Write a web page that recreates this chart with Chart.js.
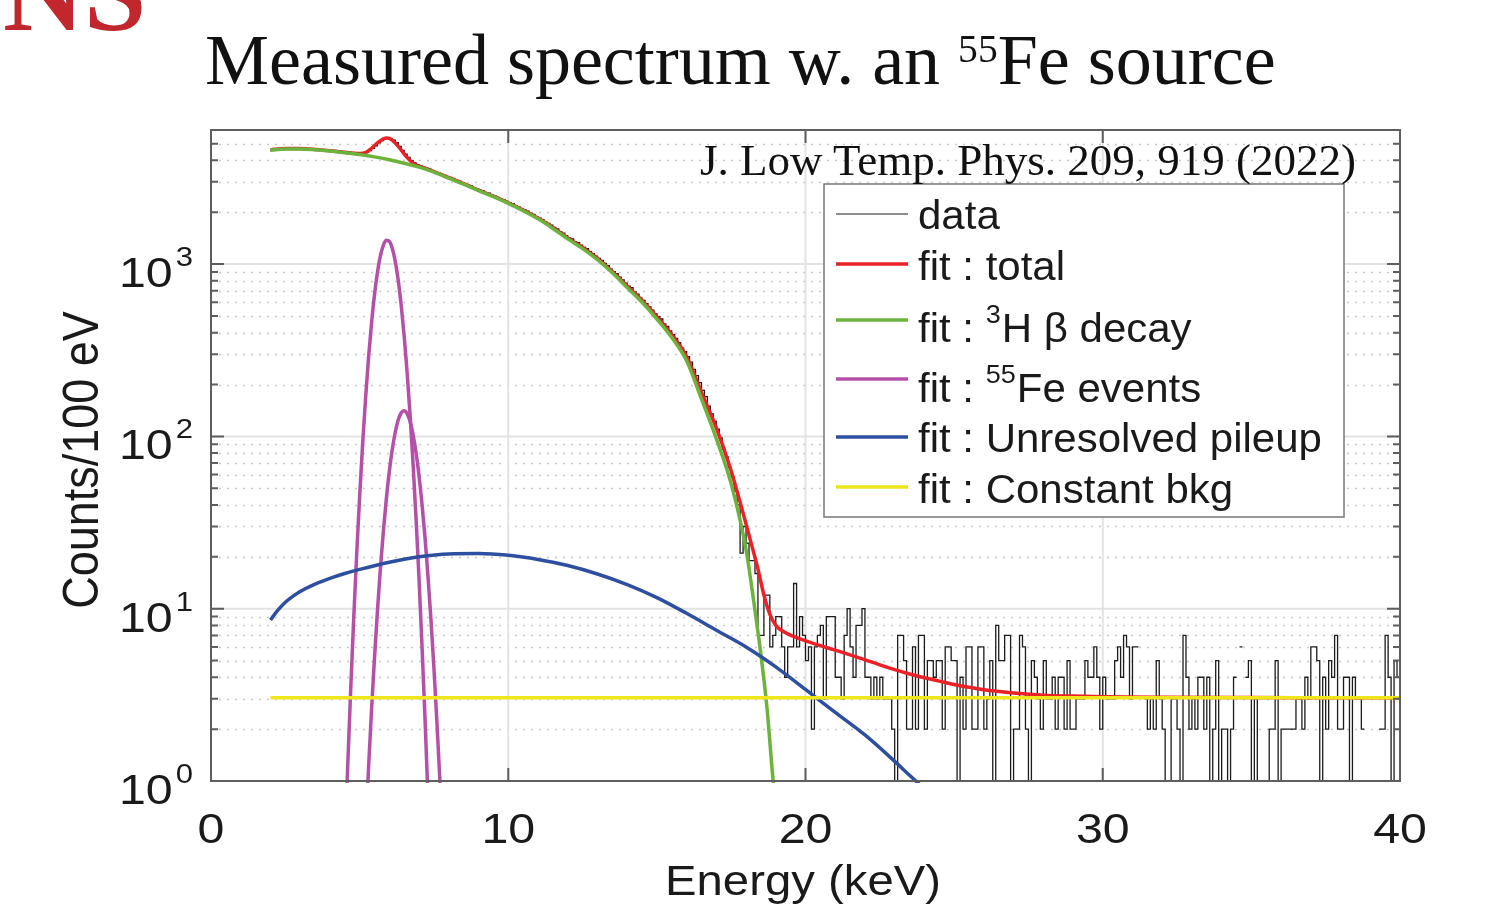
<!DOCTYPE html>
<html><head><meta charset="utf-8">
<script src="https://cdn.jsdelivr.net/npm/chart.js@4.4.0/dist/chart.umd.min.js"></script>
<style>
html,body{margin:0;padding:0;background:#fff;width:1487px;height:910px;overflow:hidden;}
#wrap{position:relative;width:1487px;height:910px;}
canvas{position:absolute;left:0;top:0;}
.ov{position:absolute;white-space:nowrap;line-height:1;margin:0;}
#logo{left:3px;top:-72px;font:bold 112px "Liberation Serif",serif;color:#c1272d;}
#title{left:205px;top:19px;font:72px "Liberation Serif",serif;color:#111;}
#title sup{font-size:0.55em;vertical-align:0.55em;line-height:0;}
#cite{left:700px;top:134px;font:45px "Liberation Serif",serif;color:#111;}
</style></head><body><div id="wrap">
<canvas id="c" width="1487" height="910"></canvas>
<div class="ov" id="logo">NS</div>
<div class="ov" id="title">Measured spectrum w. an <sup>55</sup>Fe source</div>
<div class="ov" id="cite">J. Low Temp. Phys. 209, 919 (2022)</div>
</div>
<script>
// ---------- DATA ----------
const binStartKeV = 2.0;
const binWidthKeV = 0.1;
// counts per 100 eV bin, 2.0 .. 40.0 keV (380 bins); 0 = empty bin
const counts = [
 4570,4610,4650,4620,4680,4660,4700,4650,4680,4710,
 4660,4690,4640,4670,4610,4650,4600,4620,4570,4600,
 4540,4570,4500,4520,4480,4440,4460,4410,4430,4380,
 4390,4400,4450,4560,4690,4850,5060,5210,5340,5410,
 5350,5240,5060,4820,4570,4350,4160,3990,3860,3780,
 3710,3650,3590,3550,3480,3430,3380,3330,3270,3220,
 3180,3140,3070,3030,2970,2930,2870,2840,2780,2740,
 2690,2660,2600,2580,2510,2480,2440,2390,2360,2310,
 2270,2240,2180,2150,2100,2060,2030,1970,1940,1880,
 1850,1810,1760,1720,1680,1630,1600,1540,1510,1460,
 1420,1400,1350,1330,1290,1250,1230,1180,1150,1110,
 1080,1050,1010,980,935,905,880,840,810,775,
 745,730,690,670,635,615,590,565,540,515,
 495,480,450,435,410,390,370,350,325,310,
 290,270,245,225,205,185,170,150,135,122,
 110,98,84,76,66,58,48,40,21,30,
 24,19,19,16,7,7,12,12,6,7,
 9,9,6,4,6,6,14,6,9,7,
 5,6,2,6,7,8,3,9,9,9,
 4,4,3,7,10,6,4,8,8,10,
 4,4,3,4,3,4,3,3,3,2,
 1,7,7,5,2,2,6,2,7,7,
 2,5,5,4,5,5,2,6,6,5,
 5,1,4,2,6,6,2,2,6,6,
 2,3,5,1,8,5,5,7,7,1,
 2,2,7,6,2,1,5,4,3,2,
 5,3,3,4,2,4,4,2,5,2,
 2,3,3,3,5,4,4,6,4,2,
 4,3,3,3,5,6,4,7,6,3,
 6,6,0,0,3,2,3,2,5,3,
 2,1,1,3,3,2,1,7,4,2,
 3,2,4,4,2,4,1,2,5,1,
 2,2,1,2,4,0,6,0,4,5,
 1,3,1,1,1,1,2,2,5,1,
 2,2,2,2,2,3,3,2,4,3,
 6,6,5,1,4,2,5,4,7,2,
 2,4,4,1,4,3,3,2,0,0,
 0,0,0,2,2,7,4,1,5,4
];

const totalE = [2.0,2.5,3.0,3.5,4.0,4.5,5.0,5.2,5.4,5.6,5.8,5.9,6.0,6.2,6.4,6.6,6.8,7.0,7.2,7.5,8.0,8.5,9.0,9.5,10.0,10.5,11.0,11.5,12.0,12.5,13.0,13.5,14.0,14.5,15.0,15.5,16.0,16.5,17.0,17.5,18.0,18.2,18.4,18.6,18.8,19.0,19.3,19.6,20.0,20.5,21.0,21.5,22.0,22.5,23.0,23.5,24.0,24.5,25.0,25.5,26.0,26.5,27.0,27.5,28.0,29.0,30.0,32.0,35.0,40.0];
const totalFit = [4600,4680,4680,4630,4550,4450,4380,4430,4700,5050,5330,5400,5360,5050,4580,4150,3850,3700,3600,3440,3180,2930,2690,2480,2270,2060,1850,1630,1420,1250,1080,905,745,615,495,390,290,180,112,63,31,23,17,12,9.3,8.0,7.3,6.9,6.5,6.1,5.75,5.4,5.05,4.72,4.43,4.18,3.97,3.8,3.63,3.5,3.39,3.31,3.24,3.19,3.15,3.11,3.08,3.06,3.05,3.04];

const tritiumE = [2.0,2.5,3.0,3.5,4.0,4.5,5.0,5.5,6.0,6.5,7.0,7.5,8.0,8.5,9.0,9.5,10.0,10.5,11.0,11.5,12.0,12.5,13.0,13.5,14.0,14.5,15.0,15.5,16.0,16.5,17.0,17.5,18.0,18.3,18.5,18.7,18.9,19.0];
const tritiumFit = [4580,4660,4660,4610,4530,4430,4320,4190,4030,3850,3650,3420,3150,2910,2670,2460,2250,2040,1830,1610,1400,1230,1060,890,730,600,480,375,275,165,97,53,22,9.8,5.4,2.7,1.05,0.7];

const feKaE = [4.5,4.6,4.7,4.8,4.9,5.0,5.1,5.2,5.3,5.4,5.5,5.6,5.7,5.8,5.9,6.0,6.1,6.2,6.3,6.4,6.5,6.6,6.7,6.8,6.9,7.0,7.1,7.2,7.3];
const feKaFit = [0.4,1.23,3.4,8.7,20.5,44.6,89.7,166,286,453,662,896,1119,1290,1375,1353,1231,1034,802,574,380,233,131,68.4,33,14.7,6.0,2.3,0.8];
const feKbE = [5.2,5.3,5.4,5.5,5.6,5.7,5.8,5.9,6.0,6.1,6.2,6.3,6.4,6.5,6.6,6.7,6.8,6.9,7.0,7.1,7.2,7.3,7.4,7.5,7.6,7.7,7.8];
const feKbFit = [0.5,1.19,2.57,5.17,9.75,17.2,28.3,43.6,62.7,84.4,106,125,137,141,135,121.5,102,80,58.7,40.2,25.8,15.4,8.6,4.5,2.2,1.01,0.43];

const pileupE = [2.0,2.25,2.5,2.75,3.0,3.5,4.0,4.5,5.0,6.0,7.0,8.0,9.0,10.0,11.0,12.0,13.0,14.0,15.0,16.0,17.0,18.0,19.0,20.0,21.0,22.0,23.0,23.5,24.0];
const pileupFit = [8.6,9.8,10.9,11.8,12.6,13.9,15.0,16.0,16.9,18.6,20.0,20.8,20.9,20.4,19.3,17.8,15.9,13.8,11.6,9.4,7.5,6.0,4.6,3.4,2.5,1.85,1.3,1.08,0.9];

const bkgE = [2.0,40.0];
const bkgFit = [3.04,3.04];

const xTicks = [0,10,20,30,40];
const yDecades = [0,1,2,3];
const legendLabels = [
  [['data',0]],
  [['fit : total',0]],
  [['fit : ',0],['3',1],['H \u03b2 decay',0]],
  [['fit : ',0],['55',1],['Fe events',0]],
  [['fit : Unresolved pileup',0]],
  [['fit : Constant bkg',0]]
];

// ---------- COLORS ----------
const C_DATA='#1c1c1c', C_RED='#ea2227', C_GREEN='#6cb33e', C_MAG='#b64fa8', C_BLUE='#2e4fa0', C_YEL='#efe51b';

// ---------- BUILD ----------
const dataPts = [];
counts.forEach((c,i)=>{
  const e0 = +(binStartKeV + i*binWidthKeV).toFixed(2);
  const e1 = +(e0 + binWidthKeV).toFixed(2);
  const v = c>0 ? c : null;
  dataPts.push({x:e0,y:v},{x:e1,y:v});
});
const pairs = (xs,ys)=>xs.map((x,i)=>({x:x,y:ys[i]}));

const SANS = '"Liberation Sans", Arial, Helvetica, sans-serif';
function txt(ctx,s,x,y,size,align,sx){
  ctx.save();
  ctx.font = size+'px '+SANS;
  ctx.textAlign='left'; ctx.textBaseline='alphabetic';
  const w = ctx.measureText(s).width*sx;
  const x0 = align==='center'? x-w/2 : align==='right'? x-w : x;
  ctx.translate(x0,y); ctx.scale(sx,1); ctx.fillText(s,0,0);
  ctx.restore();
  return w;
}

const decor = {
  id:'decor',
  beforeDatasetsDraw(chart){
    const {ctx, chartArea:a, scales:{x,y}} = chart;
    ctx.save();
    ctx.strokeStyle='#c9c9c9'; ctx.lineWidth=1.5; ctx.setLineDash([2,6]);
    yDecades.forEach(d=>{
      for(let m=2;m<=9;m++){
        const v=m*Math.pow(10,d); if(v>=y.max) continue;
        const py=Math.round(y.getPixelForValue(v))+0.5;
        ctx.beginPath(); ctx.moveTo(a.left,py); ctx.lineTo(a.right,py); ctx.stroke();
      }
    });
    ctx.setLineDash([]);
    ctx.strokeStyle='#e3e3e3'; ctx.lineWidth=2;
    yDecades.forEach(d=>{
      const v=Math.pow(10,d); if(v<=y.min) return;
      const py=y.getPixelForValue(v);
      ctx.beginPath(); ctx.moveTo(a.left,py); ctx.lineTo(a.right,py); ctx.stroke();
    });
    xTicks.forEach(t=>{
      if(t<=x.min||t>=x.max) return;
      const px=x.getPixelForValue(t);
      ctx.beginPath(); ctx.moveTo(px,a.top); ctx.lineTo(px,a.bottom); ctx.stroke();
    });
    ctx.restore();
  },
  afterDatasetsDraw(chart){
    const {ctx, chartArea:a, scales:{x,y}} = chart;
    ctx.save();
    ctx.strokeStyle='#5e5e5e'; ctx.lineWidth=2;
    ctx.strokeRect(a.left,a.top,a.right-a.left,a.bottom-a.top);
    yDecades.forEach(d=>{
      for(let m=1;m<=9;m++){
        const v=m*Math.pow(10,d); if(v>=y.max) continue;
        const py=y.getPixelForValue(v);
        const L = m===1?13:7;
        ctx.beginPath(); ctx.moveTo(a.left,py); ctx.lineTo(a.left+L,py);
        ctx.moveTo(a.right,py); ctx.lineTo(a.right-L,py); ctx.stroke();
      }
    });
    xTicks.forEach(t=>{
      const px=x.getPixelForValue(t);
      ctx.beginPath(); ctx.moveTo(px,a.bottom); ctx.lineTo(px,a.bottom-13);
      ctx.moveTo(px,a.top); ctx.lineTo(px,a.top+13); ctx.stroke();
    });
    ctx.restore();
  },
  afterDraw(chart){
    const {ctx, chartArea:a, scales:{x,y}} = chart;
    ctx.save();
    ctx.fillStyle='#1a1a1a';
    xTicks.forEach(t=>{ txt(ctx,String(t),x.getPixelForValue(t),843,42,'center',1.15); });
    yDecades.forEach(d=>{
      const py=y.getPixelForValue(Math.pow(10,d));
      const ws = txt(ctx,String(d),193,py+2,27,'right',1.15);
      txt(ctx,'10',193-ws-3,py+23,42,'right',1.15);
    });
    txt(ctx,'Energy (keV)',803,895,43,'center',1.1);
    ctx.save();
    ctx.translate(98,460); ctx.scale(1.1,1); ctx.rotate(-Math.PI/2);
    ctx.font='45px '+SANS; ctx.textAlign='center'; ctx.textBaseline='alphabetic';
    ctx.fillText('Counts/100 eV',0,0);
    ctx.restore();
    const L={x:824,y:184,w:520,h:333};
    ctx.fillStyle='#fff'; ctx.fillRect(L.x,L.y,L.w,L.h);
    ctx.strokeStyle='#777'; ctx.lineWidth=1.5; ctx.strokeRect(L.x,L.y,L.w,L.h);
    const cols=[C_DATA,C_RED,C_GREEN,C_MAG,C_BLUE,C_YEL];
    const lw=[1.2,3.5,3.5,3.5,3.5,3.5];
    const ly=[214,264,320,379,437,487];
    const ty=[229,280,342,402,452,503];
    legendLabels.forEach((parts,i)=>{
      ctx.strokeStyle=cols[i]; ctx.lineWidth=lw[i];
      ctx.beginPath(); ctx.moveTo(836,ly[i]); ctx.lineTo(908,ly[i]); ctx.stroke();
      ctx.fillStyle='#1a1a1a';
      let cx=918;
      parts.forEach(([s,sup])=>{
        if(sup){ cx+=txt(ctx,s,cx,ty[i]-19,26,'left',1.04)+1; }
        else { cx+=txt(ctx,s,cx,ty[i],40,'left',1.05); }
      });
    });
    ctx.restore();
  }
};

const lineDs = (label,pts,color,width,order,extra)=>Object.assign({
  label:label, data:pts, borderColor:color, backgroundColor:color, borderWidth:width,
  pointRadius:0, fill:false, order:order, clip:2, spanGaps:false
}, extra||{});

new Chart(document.getElementById('c'),{
  type:'line',
  data:{datasets:[
    lineDs('data',dataPts,C_DATA,1.3,6,{tension:0}),
    lineDs('fit : total',pairs(totalE,totalFit),C_RED,3.5,5,{cubicInterpolationMode:'monotone'}),
    lineDs('fit : 3H \u03b2 decay',pairs(tritiumE,tritiumFit),C_GREEN,3.5,4,{cubicInterpolationMode:'monotone'}),
    lineDs('fit : 55Fe events (K\u03b1)',pairs(feKaE,feKaFit),C_MAG,3.5,3,{cubicInterpolationMode:'monotone'}),
    lineDs('fit : 55Fe events (K\u03b2)',pairs(feKbE,feKbFit),C_MAG,3.5,3,{cubicInterpolationMode:'monotone'}),
    lineDs('fit : Unresolved pileup',pairs(pileupE,pileupFit),C_BLUE,3.5,2,{cubicInterpolationMode:'monotone'}),
    lineDs('fit : Constant bkg',pairs(bkgE,bkgFit),C_YEL,3.5,1,{})
  ]},
  options:{
    responsive:false, animation:false, devicePixelRatio:1, events:[],
    layout:{padding:{left:211,right:87,top:130,bottom:129}},
    scales:{
      x:{type:'linear',min:0,max:40,display:false},
      y:{type:'logarithmic',min:1,max:6000,display:false}
    },
    plugins:{legend:{display:false},tooltip:{enabled:false},title:{display:false}}
  },
  plugins:[decor]
});
</script>
</body></html>
